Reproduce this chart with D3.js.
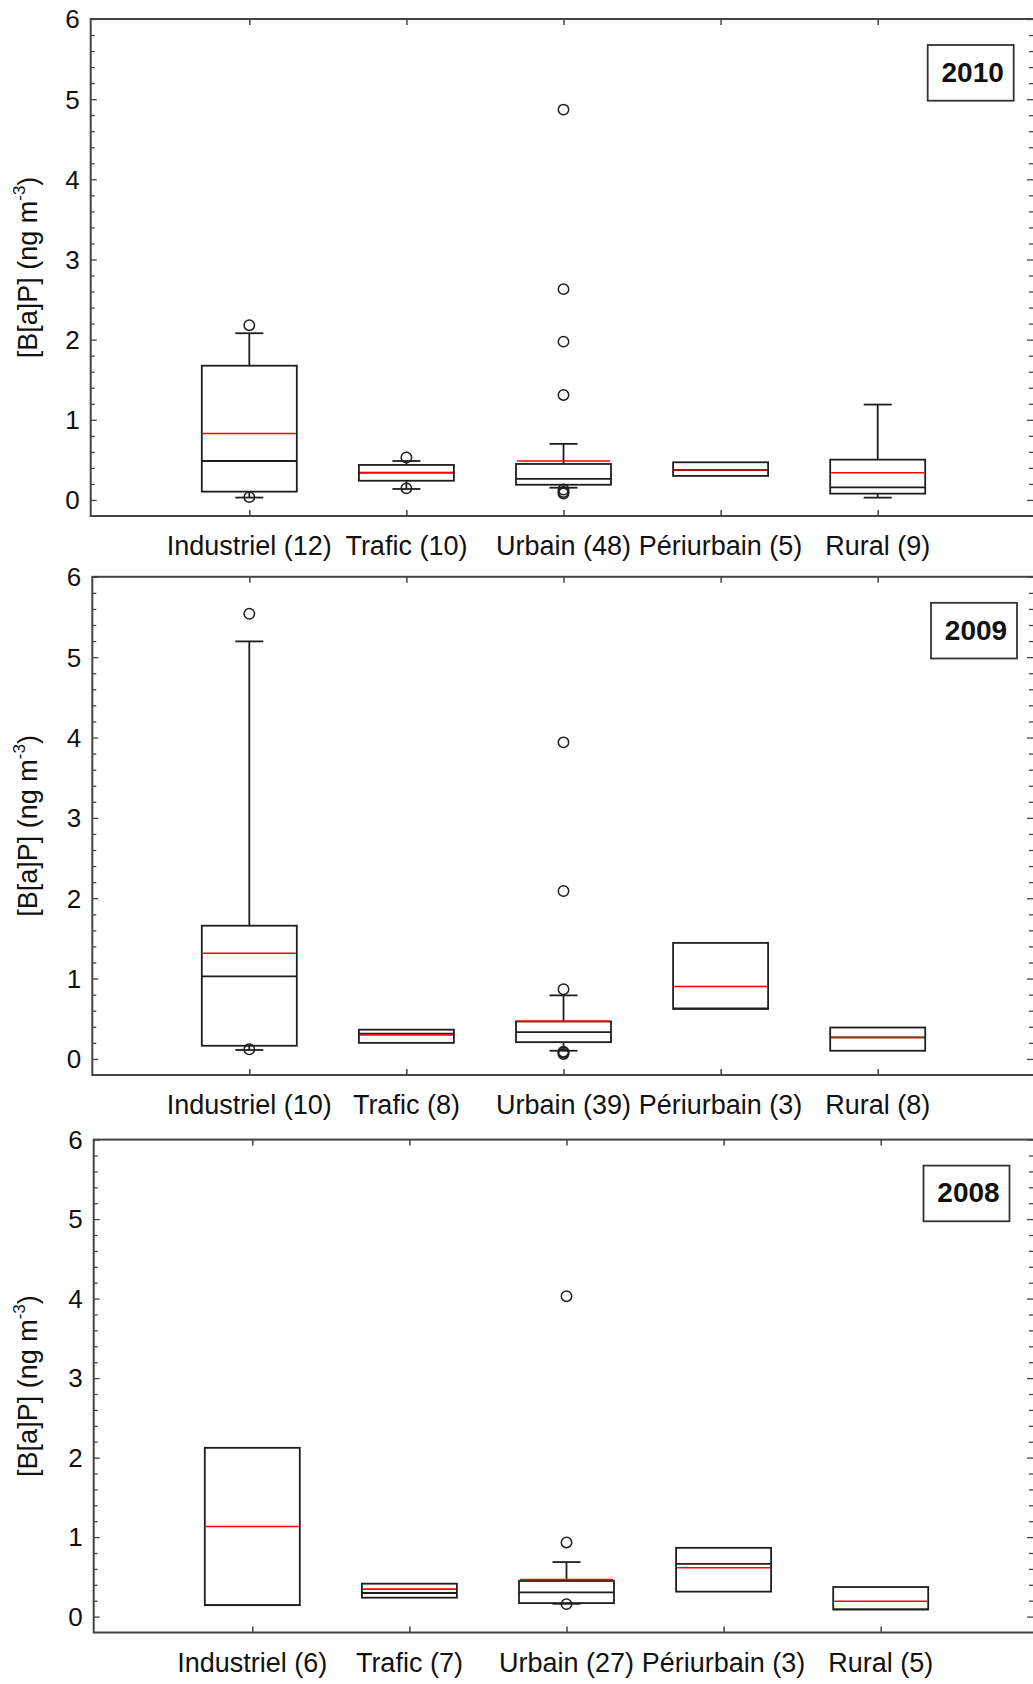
<!DOCTYPE html>
<html>
<head>
<meta charset="utf-8">
<script src="https://cdn.jsdelivr.net/npm/d3@7"></script>
<style>
  html, body { margin: 0; padding: 0; background: #fff; }
  svg { display: block; font-family: "Liberation Sans", Arial, sans-serif; }
</style>
</head>
<body>
<script>
// Site categories (x axis)
const categories = ["Industriel", "Trafic", "Urbain", "Périurbain", "Rural"];
const years = ["2010", "2009", "2008"];
const yTicks = [0, 1, 2, 3, 4, 5, 6];

// Number of stations per category and year
const counts2010 = [12, 10, 48, 5, 9];
const counts2009 = [10, 8, 39, 3, 8];
const counts2008 = [6, 7, 27, 3, 5];

// Box statistics, B[a]P in ng m-3
const q1_2010     = [0.104, 0.24, 0.19, 0.30, 0.079];
const median_2010 = [0.486, 0.34, 0.262, 0.374, 0.158];
const mean_2010   = [0.83, 0.34, 0.486, 0.374, 0.34];
const q3_2010     = [1.675, 0.437, 0.449, 0.47, 0.503];
const whiskLo_2010 = [0.03, 0.137, 0.153, 0.30, 0.029];
const whiskHi_2010 = [2.08, 0.486, 0.70, 0.47, 1.19];
const outliers_2010 = [[2.18, 0.035], [0.53, 0.145], [4.87, 2.63, 1.975, 1.31, 0.13, 0.10, 0.08], [], []];

const q1_2009     = [0.164, 0.20, 0.209, 0.622, 0.102];
const median_2009 = [1.027, 0.315, 0.333, 0.63, 0.267];
const mean_2009   = [1.316, 0.298, 0.467, 0.902, 0.267];
const q3_2009     = [1.658, 0.364, 0.467, 1.444, 0.391];
const whiskLo_2009 = [0.111, 0.20, 0.102, 0.622, 0.102];
const whiskHi_2009 = [5.196, 0.364, 0.791, 1.444, 0.391];
const outliers_2009 = [[5.54, 0.12], [], [3.94, 2.09, 0.867, 0.09, 0.076, 0.06], [], []];

const q1_2008     = [0.144, 0.238, 0.170, 0.314, 0.09];
const median_2008 = [0.144, 0.297, 0.305, 0.664, 0.09];
const mean_2008   = [1.134, 0.346, 0.466, 0.614, 0.193];
const q3_2008     = [2.123, 0.414, 0.448, 0.865, 0.372];
const whiskLo_2008 = [0.144, 0.238, 0.161, 0.314, 0.09];
const whiskHi_2008 = [2.123, 0.414, 0.686, 0.865, 0.372];
const outliers_2008 = [[], [], [4.03, 0.933, 0.157], [], []];

const stats = {
  "2010": { n: counts2010, q1: q1_2010, med: median_2010, mean: mean_2010, q3: q3_2010, lo: whiskLo_2010, hi: whiskHi_2010, out: outliers_2010 },
  "2009": { n: counts2009, q1: q1_2009, med: median_2009, mean: mean_2009, q3: q3_2009, lo: whiskLo_2009, hi: whiskHi_2009, out: outliers_2009 },
  "2008": { n: counts2008, q1: q1_2008, med: median_2008, mean: mean_2008, q3: q3_2008, lo: whiskLo_2008, hi: whiskHi_2008, out: outliers_2008 }
};

// Panel frames (pixels)
const layout = {
  "2010": { left: 90.7, top: 19,    bottom: 516,    firstX: 249.3, tagX: 927.7 },
  "2009": { left: 92.3, top: 576.8, bottom: 1075,   firstX: 249.3, tagX: 931 },
  "2008": { left: 93.7, top: 1139.6, bottom: 1632.5, firstX: 252.3, tagX: 923.5 }
};
const rightEdge = 1035;
const step = 157.1;
const boxHalf = 47.5, capHalf = 14;
const frameColor = "#444", inkColor = "#1e1e1e", meanColor = "#ff0000";

const svg = d3.select("body").append("svg")
  .attr("width", 1033).attr("height", 1684);

years.forEach(year => {
  const L = layout[year];
  const S = stats[year];
  const g = svg.append("g");

  const x = d3.scalePoint().domain(categories)
    .range([L.firstX, L.firstX + step * (categories.length - 1)]);
  const y = d3.scaleLinear().domain([-0.2, 6]).range([L.bottom, L.top]);

  // Left and right axes: major ticks at integers, minor every 0.2, pointing inward
  const minor = d3.range(0, 6.001, 0.2).map(v => +v.toFixed(1));
  const axisL = d3.axisRight(y).tickValues(minor).tickSize(4).tickFormat("");
  g.append("g").attr("transform", `translate(${L.left},0)`).call(axisL)
    .call(a => a.select(".domain").remove())
    .call(a => a.selectAll("line").attr("stroke", frameColor).attr("stroke-width", 1.3)
      .attr("x2", d => Number.isInteger(d) ? 6 : 4));
  const axisR = d3.axisLeft(y).tickValues(minor).tickSize(4).tickFormat("");
  g.append("g").attr("transform", `translate(${rightEdge - 2},0)`).call(axisR)
    .call(a => a.select(".domain").remove())
    .call(a => a.selectAll("line").attr("stroke", frameColor).attr("stroke-width", 1.3)
      .attr("x2", d => Number.isInteger(d) ? -6 : -4));

  // Y tick labels
  g.selectAll("text.ytick").data(yTicks).enter().append("text")
    .attr("class", "ytick")
    .attr("x", L.left - 11).attr("y", d => y(d)).attr("dy", "0.36em")
    .attr("text-anchor", "end").attr("font-size", 26).attr("fill", "#111")
    .text(d => d);

  // Category ticks on top and bottom frame
  const axisB = d3.axisTop(x).tickSize(6).tickFormat("");
  g.append("g").attr("transform", `translate(0,${L.bottom})`).call(axisB)
    .call(a => a.select(".domain").remove())
    .call(a => a.selectAll("line").attr("stroke", frameColor).attr("stroke-width", 1.5));
  const axisT = d3.axisBottom(x).tickSize(6).tickFormat("");
  g.append("g").attr("transform", `translate(0,${L.top})`).call(axisT)
    .call(a => a.select(".domain").remove())
    .call(a => a.selectAll("line").attr("stroke", frameColor).attr("stroke-width", 1.5));

  // Frame
  g.append("rect")
    .attr("x", L.left).attr("y", L.top)
    .attr("width", rightEdge - L.left).attr("height", L.bottom - L.top)
    .attr("fill", "none").attr("stroke", frameColor).attr("stroke-width", 2);

  // Category labels
  g.selectAll("text.cat").data(categories).enter().append("text")
    .attr("class", "cat")
    .attr("x", d => x(d)).attr("y", L.bottom + 39)
    .attr("text-anchor", "middle").attr("font-size", 27).attr("fill", "#111")
    .text((d, i) => `${d} (${S.n[i]})`);

  // Y axis title
  const midY = (L.top + L.bottom) / 2;
  const title = g.append("text")
    .attr("transform", `translate(36.5,${midY}) rotate(-90)`)
    .attr("text-anchor", "middle").attr("font-size", 27).attr("fill", "#111");
  title.append("tspan").text("[B[a]P] (ng m");
  title.append("tspan").attr("font-size", 17).attr("dy", -12).text("-3");
  title.append("tspan").attr("dy", 12).text(")");

  // Boxes
  const boxes = g.selectAll("g.box").data(categories).enter().append("g").attr("class", "box");
  boxes.each(function (c, i) {
    const b = d3.select(this);
    const cx = x(c);
    // whiskers
    if (S.hi[i] > S.q3[i]) {
      b.append("line").attr("x1", cx).attr("x2", cx).attr("y1", y(S.q3[i])).attr("y2", y(S.hi[i]));
      b.append("line").attr("x1", cx - capHalf).attr("x2", cx + capHalf).attr("y1", y(S.hi[i])).attr("y2", y(S.hi[i]));
    }
    if (S.lo[i] < S.q1[i]) {
      b.append("line").attr("x1", cx).attr("x2", cx).attr("y1", y(S.q1[i])).attr("y2", y(S.lo[i]));
      b.append("line").attr("x1", cx - capHalf).attr("x2", cx + capHalf).attr("y1", y(S.lo[i])).attr("y2", y(S.lo[i]));
    }
    b.append("rect")
      .attr("x", cx - boxHalf).attr("y", y(S.q3[i]))
      .attr("width", boxHalf * 2).attr("height", y(S.q1[i]) - y(S.q3[i]))
      .attr("fill", "none");
    b.append("line").attr("x1", cx - boxHalf).attr("x2", cx + boxHalf)
      .attr("y1", y(S.med[i])).attr("y2", y(S.med[i]));
    b.selectAll("line, rect").attr("stroke", inkColor).attr("stroke-width", 1.8);
    b.append("line").attr("x1", cx - boxHalf + 1).attr("x2", cx + boxHalf - 1)
      .attr("y1", y(S.mean[i])).attr("y2", y(S.mean[i]))
      .attr("stroke", meanColor).attr("stroke-width", 1.6);
    b.selectAll("circle").data(S.out[i]).enter().append("circle")
      .attr("cx", cx).attr("cy", v => y(v)).attr("r", 5.2)
      .attr("fill", "none").attr("stroke", inkColor).attr("stroke-width", 1.5);
  });

  // Year tag
  const tagTop = L.top + 26;
  g.append("rect").attr("x", L.tagX).attr("y", tagTop).attr("width", 86).attr("height", 55.7)
    .attr("fill", "#fff").attr("stroke", "#333").attr("stroke-width", 1.8);
  g.append("text").attr("x", L.tagX + 45).attr("y", tagTop + 36.7)
    .attr("text-anchor", "middle").attr("font-size", 28).attr("font-weight", "bold").attr("fill", "#111")
    .text(year);
});
</script>
</body>
</html>
